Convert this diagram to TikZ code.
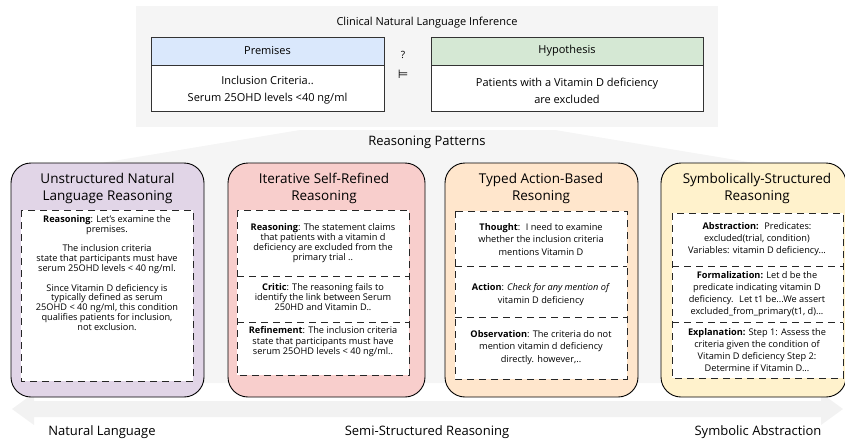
\documentclass[tikz,border=0pt]{standalone}
\usepackage{fontspec}
\setmainfont{Open Sans}
\newfontfamily\symfont{DejaVu Sans}
\definecolor{panelgray}{RGB}{245,245,245}
\definecolor{arrowgray}{RGB}{242,242,242}
\definecolor{premblue}{RGB}{218,232,252}
\definecolor{hypgreen}{RGB}{213,232,212}
\definecolor{cpurple}{RGB}{225,213,231}
\definecolor{cred}{RGB}{248,206,204}
\definecolor{corange}{RGB}{255,230,204}
\definecolor{cyellow}{RGB}{255,242,204}
\tikzset{
  lbl/.style={inner sep=0pt, align=center},
  toptext/.style={lbl, font=\fontsize{11}{17}\selectfont},
  sbox/.style={draw=black!80, line width=0.8pt},
  cardbox/.style={draw=black, line width=0.9pt, rounded corners=20pt},
  dashbox/.style={draw=black!85, line width=1pt, dash pattern=on 7pt off 5pt},
  cardtitle/.style={lbl, font=\fontsize{13.5}{17}\selectfont},
  body/.style={lbl, font=\fontsize{9.2}{#1}\selectfont},
  body/.default=10,
  bottomlbl/.style={lbl, font=\fontsize{13}{15}\selectfont},
}
\begin{document}
\begin{tikzpicture}[x=1pt,y=-1pt]
\useasboundingbox (0,0) rectangle (845,439);
% background fan
\fill[panelgray] (300,130) -- (555,130) -- (845,178) -- (845,383) -- (11,383) -- (11,178) -- cycle;
% top panel
\fill[panelgray] (136,6) rectangle (718,127);
% double arrow
\fill[arrowgray] (12,409) -- (34,393) -- (34,401) -- (821,401) -- (821,393) -- (843,409) -- (821,425) -- (821,417) -- (34,417) -- (34,425) -- cycle;

% top content
\node[toptext] (cnli) at (427,23) {Clinical Natural Language Inference};
\filldraw[sbox, fill=premblue] (151,37) rectangle (384,65);
\filldraw[sbox, fill=white] (151,65) rectangle (384,111);
\filldraw[sbox, fill=hypgreen] (431,37) rectangle (703,65);
\filldraw[sbox, fill=white] (431,65) rectangle (703,111);
\node[toptext] (premh) at (267.5,51) {Premises};
\node[toptext] (premb) at (267.5,90.5) {Inclusion Criteria..\\Serum 25OHD levels <40 ng/ml};
\node[toptext] (hyph) at (567,51) {Hypothesis};
\node[toptext] (hypb) at (567,90.5) {Patients with a Vitamin D deficiency\\are excluded};
\node[lbl, font=\fontsize{10}{12}\selectfont] (qm) at (403,55) {?};
\node[lbl, font=\symfont\fontsize{12}{14}\selectfont] (models) at (403,74) {⊨};
\node[bottomlbl] (rp) at (427,142) {Reasoning Patterns};

% cards
\filldraw[cardbox, fill=cpurple] (11,163) rectangle (204,397);
\filldraw[cardbox, fill=cred] (228,163) rectangle (425,397);
\filldraw[cardbox, fill=corange] (445,163) rectangle (638,397);
\filldraw[cardbox, fill=cyellow] (661,163) rectangle (846,397);

\node[cardtitle] (t1) at (107.5,188.5) {Unstructured Natural\\Language Reasoning};
\node[cardtitle] (t2) at (324,188.5) {Iterative Self-Refined\\Reasoning};
\node[cardtitle] (t3) at (541,188.5) {Typed Action-Based\\Resoning};
\node[cardtitle] (t4) at (757,188.5) {Symbolically-Structured\\Reasoning};

% card 1 inner
\filldraw[dashbox, fill=white] (21,210) rectangle (193,381);
\node[body=9.8] (c1) at (107,273) {\textbf{Reasoning}: Let's examine the\\premises.\\[9.8pt]The inclusion criteria\\state that participants must have\\serum 25OHD levels < 40 ng/ml.\\[9.8pt]Since Vitamin D deficiency is\\typically defined as serum\\25OHD < 40 ng/ml, this condition\\qualifies patients for inclusion,\\not exclusion.};

% card 2 inner
\filldraw[dashbox, fill=white] (237,210) rectangle (409,375);
\draw[dashbox] (237,276) -- (409,276);
\draw[dashbox] (237,322) -- (409,322);
\node[body=10] (c2a) at (323,243) {\textbf{Reasoning}: The statement claims\\that patients with a vitamin d\\deficiency are excluded from the\\primary trial ..};
\node[body=10] (c2b) at (323,297) {\textbf{Critic}: The reasoning fails to\\identify the link between Serum\\250HD and Vitamin D..};
\node[body=10.5] (c2c) at (323,342) {\textbf{Refinement}: The inclusion criteria\\state that participants must have\\serum 25OHD levels < 40 ng/ml..};

% card 3 inner
\filldraw[dashbox, fill=white] (455,211) rectangle (627,379);
\draw[dashbox] (455,266) -- (627,266);
\draw[dashbox] (455,317) -- (627,317);
\node[body=12.5] (c3a) at (541,239.5) {\textbf{Thought}:~ I need to examine\\whether the inclusion criteria\\mentions Vitamin D};
\node[body=13] (c3b) at (541,294.5) {\textbf{Action}: \textit{Check for any mention of}\\vitamin D deficiency};
\node[body=12.5] (c3c) at (541,347.5) {\textbf{Observation}: The criteria do not\\mention vitamin d deficiency\\directly. however,..};

% card 4 inner
\filldraw[dashbox, fill=white] (672,213) rectangle (843,378);
\draw[dashbox] (672,266) -- (843,266);
\draw[dashbox] (672,322) -- (843,322);
\node[body=11.7] (c4a) at (757,239) {\textbf{Abstraction:}~ Predicates:\\excluded(trial, condition)\\Variables: vitamin D deficiency...};
\node[body=12] (c4b) at (757,294) {\textbf{Formalization:} Let d be the\\predicate indicating vitamin D\\deficiency.~ Let t1 be...We assert\\excluded\_from\_primary(t1, d)...};
\node[body=12] (c4c) at (757,350) {\textbf{Explanation:} Step 1: Assess the\\criteria given the condition of\\Vitamin D deficiency Step 2:\\Determine if Vitamin D...};

% bottom labels
\node[bottomlbl] (nl) at (102,432) {Natural Language};
\node[bottomlbl] (ssr) at (427,432) {Semi-Structured Reasoning};
\node[bottomlbl] (sa) at (758,432) {Symbolic Abstraction};
\end{tikzpicture}
\end{document}
